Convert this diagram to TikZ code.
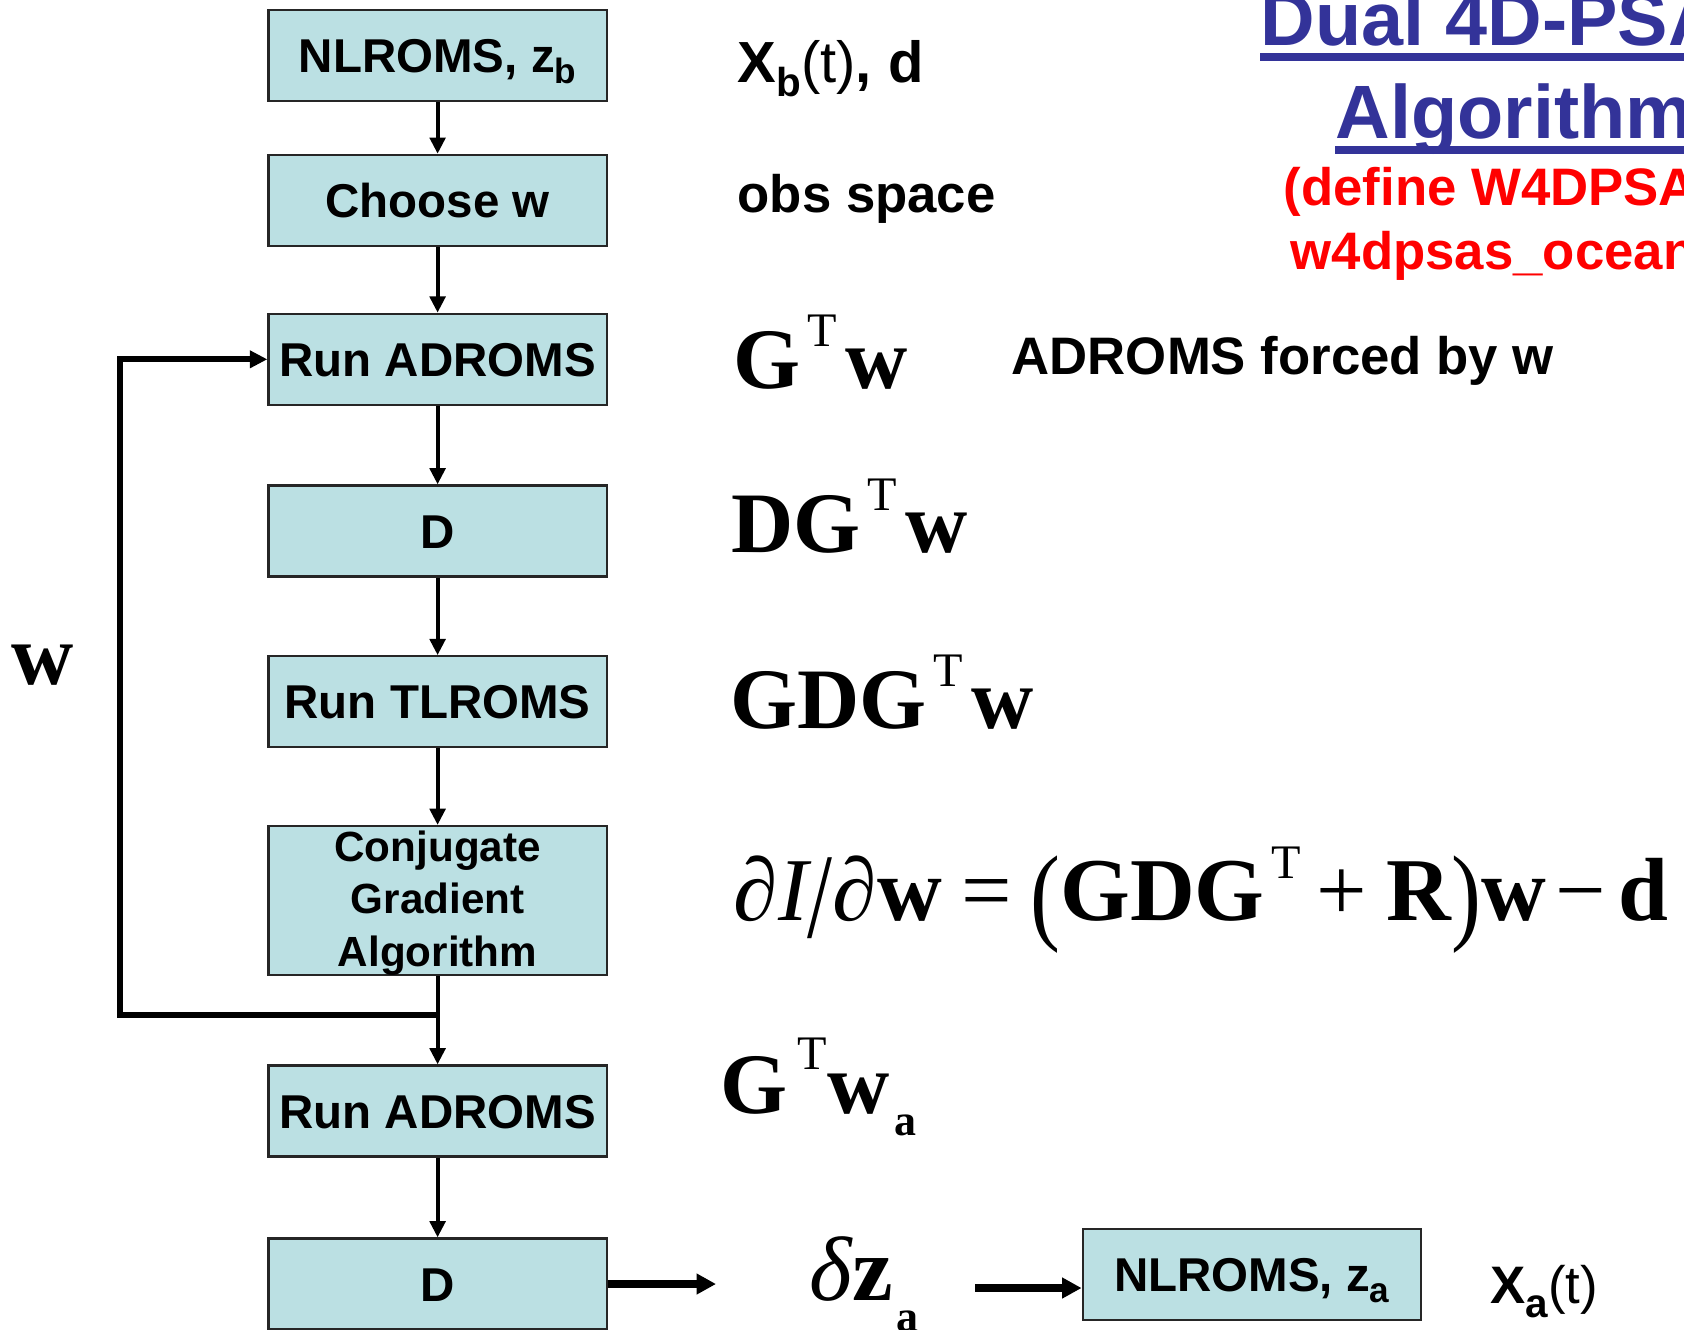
\documentclass[tikz,border=0pt]{standalone}
\usepackage{fontspec}
\setmainfont{Liberation Sans}
\newfontfamily\tms{Liberation Serif}
\usetikzlibrary{arrows.meta}
\definecolor{boxfill}{RGB}{187,224,227}
\definecolor{titleblue}{RGB}{51,51,153}
\definecolor{notered}{RGB}{255,0,0}
% superscript T and subscript a for the serif formulas
\newcommand\supT[1]{\raisebox{#1}{\fontsize{13.7}{14}\selectfont\mdseries T}}
\newcommand\subA[1]{\raisebox{-#1}{\fontsize{12.5}{13}\selectfont a}}
% subscripts in the sans labels
\newcommand\boxsub[1]{\raisebox{-3pt}[0pt][0pt]{\fontsize{10}{10}\selectfont #1}}
\newcommand\sidesub[1]{\raisebox{-4pt}{\fontsize{11.5}{11.5}\selectfont #1}}
\begin{document}
\begin{tikzpicture}[x=0.01cm,y=-0.01cm,
  boxbase/.style={draw=black!85, line width=0.65pt, fill=boxfill,
    minimum width=3.38cm, minimum height=0.91cm, inner sep=0pt,
    align=center, font=\fontsize{13.5}{16}\selectfont\bfseries},
  box/.style={boxbase, text height=9.7pt, text depth=0pt},
  flow/.style={-{Triangle[length=4.6pt,width=4.4pt]}, line width=1.1pt},
  loopline/.style={line width=1.8pt},
  bigflow/.style={-{Triangle[length=5.5pt,width=5.6pt]}, line width=2.2pt},
  sidetext/.style={anchor=base west, inner sep=0pt,
    font=\fontsize{15}{18}\selectfont\bfseries},
  formula/.style={anchor=base west, inner sep=0pt,
    font=\tms\fontsize{24.5}{28}\selectfont\bfseries},
  titletext/.style={anchor=base west, inner sep=0pt, text=titleblue,
    font=\fontsize{21.5}{26}\selectfont\bfseries},
  redtext/.style={anchor=base west, inner sep=0pt, text=notered,
    font=\fontsize{15}{18}\selectfont\bfseries}]
\useasboundingbox (0,0) rectangle (1684,1329);
\clip (0,0) rectangle (1684,1329);

% main chain of steps
\node[box] (nlb)    at (437.6,55.4)  {NLROMS, z\boxsub{b}};
\node[box] (choose) at (437.6,200.4) {Choose w};
\node[box] (adj1)   at (437.6,359.3) {Run ADROMS};
\node[box] (d1)     at (437.6,531)   {D};
\node[box] (tl)     at (437.6,701.8) {Run TLROMS};
\node[boxbase, minimum height=1.45cm, font=\fontsize{12}{14.9}\selectfont\bfseries]
             (cg)   at (437.6,900.5) {\rule{0pt}{10pt}Conjugate\\Gradient\\Algorithm};
\node[box] (adj2)   at (437.6,1111)  {Run ADROMS};
\node[box] (d2)     at (437.6,1284)  {D};
\node[box] (nla)    at (1251.8,1274.4) {NLROMS, z\boxsub{a}};

\draw[flow] (nlb) -- (choose);
\draw[flow] (choose) -- (adj1);
\draw[flow] (adj1) -- (d1);
\draw[flow] (d1) -- (tl);
\draw[flow] (tl) -- (cg);

% iteration loop back to the adjoint run
\coordinate (jn) at (437.6,1015);
\coordinate (corner) at (120,1015);
\draw[line width=1.1pt] (cg.south) -- (jn);
\draw[flow] (jn) -- (adj2);
\draw[loopline, -{Triangle[length=5pt,width=4.8pt]}] (jn) -- (corner) |- (adj1.west);
\draw[flow] (adj2) -- (d2);

% final increment and nonlinear run
\coordinate (dzin) at (716,1284);
\coordinate (dzout) at (975,1288);
\draw[bigflow] (d2.east) -- (dzin);
\draw[bigflow] (dzout) -- (dzout -| nla.west);

% annotations on the right
\node[sidetext, font=\fontsize{16.5}{19}\selectfont\bfseries] (xb) at (737,82) {X\sidesub{b}{\mdseries(t)}, d};
\node[sidetext] (obs) at (737,212) {obs space};
\node[formula] (gtw) at (733,388) {G\hspace{0.07cm}\supT{11.7pt}\hspace{0.08cm}w};
\node[sidetext] (forced) at (1011,374) {ADROMS forced by w};
\node[formula] (dgtw) at (731,552) {DG\hspace{0.07cm}\supT{11.7pt}\hspace{0.08cm}w};
\node[formula] (gdgtw) at (730,728) {GDG\hspace{0.07cm}\supT{11.7pt}\hspace{0.08cm}w};
\node[formula, font=\tms\fontsize{25.5}{29}\selectfont\bfseries] (grad) at (733,920)
  {{\mdseries\itshape ∂I}{\mdseries\raisebox{-5pt}{\scalebox{1}[1.35]{/}}}{\mdseries\itshape ∂}w\hspace{0.2cm}{\mdseries =}\hspace{0.18cm}{\mdseries\raisebox{-3pt}{\scalebox{1}[1.2]{(}}}GDG\hspace{0.07cm}\supT{11.9pt}\hspace{0.15cm}{\mdseries +}\hspace{0.2cm}R{\mdseries\raisebox{-3pt}{\scalebox{1}[1.2]{)}}}w\hspace{0.1cm}{\mdseries −}\hspace{0.12cm}d};
\node[formula] (gtwa) at (720,1113) {G\hspace{0.1cm}\supT{12.3pt}w\hspace{0.05cm}\subA{6.3pt}};
\node[formula] (wlabel) at (11,684) {w};
\node[formula, font=\tms\fontsize{26}{29}\selectfont\bfseries] (dz) at (809,1300) {{\mdseries\itshape δ}z\hspace{0.04cm}\subA{9pt}};
\node[sidetext] (xa) at (1490,1303) {X\sidesub{a}{\mdseries(t)}};

% heading
\node[titletext] (t1) at (1260,45) {Dual 4D-PSAS};
\node[titletext] (t2) at (1335,138) {Algorithm};
\draw[titleblue, line width=2.3pt] ([yshift=-3.4pt]t1.base west) -- ([yshift=-3.4pt]t1.base east);
\draw[titleblue, line width=2.3pt] ([yshift=-3.4pt]t2.base west) -- ([yshift=-3.4pt]t2.base east);
\node[redtext] (r1) at (1283,205) {(define W4DPSAS)};
\node[redtext] (r2) at (1290,269) {w4dpsas\_ocean.h)};
\end{tikzpicture}
\end{document}
